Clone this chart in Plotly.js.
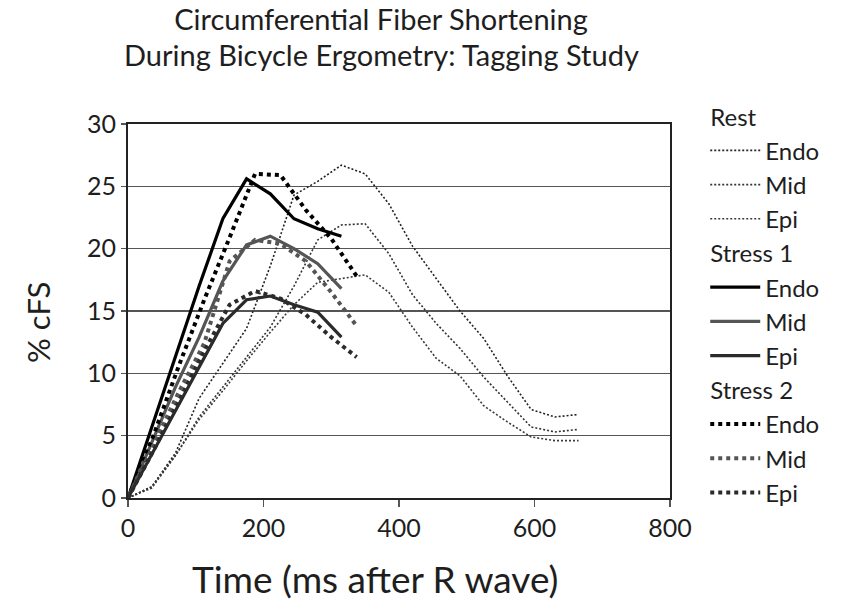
<!DOCTYPE html>
<html>
<head>
<meta charset="utf-8">
<script src="https://cdn.plot.ly/plotly-3.0.1.min.js"></script>
<style>html,body{margin:0;padding:0;background:#fff;}#chart{width:841px;height:602px;}</style>
</head>
<body>
<div id="chart"></div>
<script>
// Time points (ms after R wave)
const tRest = [0,35,70,105,140,175,210,245,280,315,350,385,420,455,490,525,560,595,630,665];
const tStress1 = [0,35,70,105,140,175,210,245,280,315];
const tStress2 = [0,37.5,75,112.5,150,187.5,225,262.5,300,337.5];

// % cFS values
const restEndo = [0,0.9,3.6,8.0,10.8,13.6,18.6,24.3,25.4,26.7,26.0,23.6,20.2,17.6,15.0,12.8,9.8,7.1,6.5,6.7];
const restMid  = [0,0.9,3.4,6.5,8.9,11.3,13.7,17.0,20.7,21.9,22.0,19.6,16.3,14.0,12.0,9.7,7.7,5.7,5.3,5.5];
const restEpi  = [0,0.8,3.4,6.3,8.6,11.0,13.3,15.5,17.3,17.6,17.9,16.5,13.7,11.2,9.8,7.4,6.1,4.9,4.6,4.6];

const s1Endo = [0,5.6,11.3,17.0,22.4,25.6,24.4,22.4,21.6,21.0];
const s1Mid  = [0,4.4,8.9,12.9,17.4,20.3,21.0,20.0,18.8,16.8];
const s1Epi  = [0,3.5,7.0,10.5,14.0,15.9,16.2,15.5,14.9,12.9];

const s2Endo = [0,5.0,10.6,15.9,20.9,26.0,25.9,23.1,20.8,17.8];
const s2Mid  = [0,4.2,8.5,12.4,19.0,20.7,20.4,19.0,16.5,13.8];
const s2Epi  = [0,3.8,7.8,11.8,15.5,16.6,16.0,14.7,12.9,11.3];

const xTicks = [0,200,400,600,800];
const yTicks = [0,5,10,15,20,25,30];

const titleLines = ['Circumferential Fiber Shortening', 'During Bicycle Ergometry: Tagging Study'];
const xTitle = 'Time (ms after R wave)';
const yTitle = '% cFS';

const FONT = 'Lato, "Open Sans", sans-serif';
const TXT = '#1e1e1e';

function tr(x, y, name, group, groupTitle, color, width, dash) {
  const t = {
    x: x, y: y, name: name, type: 'scatter', mode: 'lines',
    line: {color: color, width: width, dash: dash},
    legendgroup: group, hoverinfo: 'skip'
  };
  if (groupTitle) t.legendgrouptitle = {text: groupTitle, font: {family: FONT, size: 24, color: TXT}};
  return t;
}

const restDash = '2px,2px';
const data = [
  tr(tRest, restEndo, 'Endo', 'rest', 'Rest', '#222', 1.6, restDash),
  tr(tRest, restMid,  'Mid',  'rest', null,   '#333', 1.6, restDash),
  tr(tRest, restEpi,  'Epi',  'rest', null,   '#3a3a3a', 1.6, restDash),
  tr(tStress1, s1Endo, 'Endo', 's1', 'Stress 1', '#000', 3.2, 'solid'),
  tr(tStress1, s1Mid,  'Mid',  's1', null, '#555', 3.2, 'solid'),
  tr(tStress1, s1Epi,  'Epi',  's1', null, '#2b2b2b', 3.2, 'solid'),
  tr(tStress2, s2Endo, 'Endo', 's2', 'Stress 2', '#000', 4, 'dot'),
  tr(tStress2, s2Mid,  'Mid',  's2', null, '#555', 4, 'dot'),
  tr(tStress2, s2Epi,  'Epi',  's2', null, '#2b2b2b', 4, 'dot')
];

const layout = {
  width: 841, height: 602,
  margin: {l: 128, r: 171, t: 124, b: 104},
  paper_bgcolor: '#fff', plot_bgcolor: '#fff',
  font: {family: FONT, color: TXT},
  title: {
    text: titleLines[0],
    font: {family: FONT, size: 29, color: TXT},
    x: 0.453, xanchor: 'center', yref: 'container', y: 1 - 20/602, yanchor: 'middle'
  },
  annotations: [
    {text: titleLines[1], xref: 'paper', yref: 'paper', x: (381 - 128) / 542, y: 1 + (124 - 55) / 374,
     xanchor: 'center', yanchor: 'middle', showarrow: false, font: {family: FONT, size: 29, color: TXT}},
    {text: xTitle, xref: 'paper', yref: 'paper', x: (375 - 128) / 542, y: -(578 - 498) / 374,
     xanchor: 'center', yanchor: 'middle', showarrow: false, font: {family: FONT, size: 37, color: TXT}},
    {text: yTitle, xref: 'paper', yref: 'paper', x: -(128 - 38) / 542, y: (498 - 323) / 374, textangle: -90,
     xanchor: 'center', yanchor: 'middle', showarrow: false, font: {family: FONT, size: 31, color: TXT}}
  ],
  xaxis: {
    range: [0, 800], tickvals: xTicks, ticktext: xTicks.map(String),
    showgrid: false, zeroline: false,
    showline: true, linecolor: '#222', linewidth: 2, mirror: true,
    ticks: 'outside', ticklen: 7, tickwidth: 1.5, tickcolor: '#555',
    tickfont: {family: FONT, size: 25, color: TXT}
  },
  yaxis: {
    range: [0, 30], tickvals: yTicks, ticktext: yTicks.map(String),
    showgrid: true, gridcolor: '#555', gridwidth: 1.6, zeroline: false,
    showline: true, linecolor: '#222', linewidth: 2, mirror: true,
    ticks: 'outside', ticklen: 5, tickwidth: 1.5, tickcolor: '#555',
    tickfont: {family: FONT, size: 25, color: TXT}
  },
  showlegend: true,
  legend: {
    x: 1.065, xanchor: 'left', y: 1.08, yanchor: 'top',
    font: {family: FONT, size: 24, color: TXT},
    traceorder: 'grouped', tracegroupgap: 0, maxheight: 560,
    bgcolor: 'rgba(0,0,0,0)', itemwidth: 50
  }
};

Plotly.newPlot('chart', data, layout, {displayModeBar: false, staticPlot: true});
</script>
</body>
</html>
